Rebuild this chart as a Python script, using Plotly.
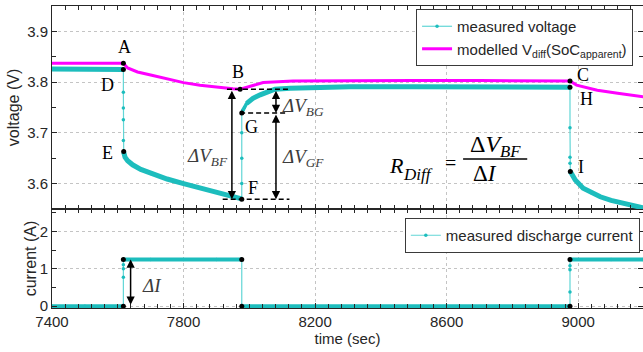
import plotly.graph_objects as go

# ---------------- data ----------------
# measured voltage, split in segments (rest / drop / pulse / jump / relax / drop / pulse)
t_v_rest1 = [7400, 7450, 7500, 7550, 7600, 7617]
v_v_rest1 = [3.826, 3.826, 3.826, 3.826, 3.826, 3.825]
t_v_drop1 = [7617, 7617, 7617, 7617, 7617, 7618]
v_v_drop1 = [3.825, 3.780, 3.749, 3.726, 3.685, 3.663]
t_v_pulse1 = [7618, 7622, 7630, 7645, 7670, 7700, 7750, 7800, 7850, 7900, 7950, 7977]
v_v_pulse1 = [3.662, 3.652, 3.645, 3.637, 3.628, 3.620, 3.609, 3.600, 3.592, 3.584, 3.576, 3.570]
t_v_jump1 = [7977, 7977, 7977, 7977, 7977]
v_v_jump1 = [3.570, 3.600, 3.650, 3.700, 3.739]
t_v_relax = [7977, 7980, 7985, 7992, 8011, 8033, 8078, 8124, 8306, 8500, 8700, 8900, 8975]
v_v_relax = [3.739, 3.745, 3.750, 3.758, 3.768, 3.775, 3.786, 3.788, 3.791, 3.791, 3.791, 3.791, 3.790]
t_v_drop2 = [8975, 8975, 8975, 8975, 8976]
v_v_drop2 = [3.790, 3.710, 3.652, 3.640, 3.624]
t_v_pulse2 = [8976, 8983, 8991, 9015, 9040, 9067, 9100, 9128, 9160, 9198]
v_v_pulse2 = [3.624, 3.614, 3.607, 3.591, 3.582, 3.574, 3.567, 3.562, 3.557, 3.552]

# modelled V_diff(SoC_apparent)
t_model = [7400, 7500, 7617, 7630, 7660, 7700, 7750, 7800, 7850, 7900, 7950, 7972,
           8000, 8024, 8042, 8133, 8316, 8500, 8700, 8975, 8995, 9058, 9120, 9198]
v_model = [3.837, 3.837, 3.837, 3.828, 3.820, 3.814, 3.806, 3.799, 3.794, 3.790, 3.787, 3.786,
           3.791, 3.795, 3.799, 3.802, 3.803, 3.803, 3.803, 3.802, 3.794, 3.784, 3.778, 3.771]

# measured discharge current segments
t_i_rest1 = [7400, 7500, 7617]
i_i_rest1 = [0, 0, 0]
t_i_jump1 = [7617, 7617, 7617, 7617, 7617]
i_i_jump1 = [0, 0.77, 1.00, 1.11, 1.25]
t_i_pulse1 = [7617, 7700, 7800, 7900, 7977]
i_i_pulse1 = [1.25, 1.25, 1.25, 1.25, 1.25]
t_i_fall1 = [7977, 7977]
i_i_fall1 = [1.25, 0]
t_i_rest2 = [7977, 8200, 8600, 8975]
i_i_rest2 = [0, 0, 0, 0]
t_i_jump2 = [8975, 8975, 8975, 8975, 8975]
i_i_jump2 = [0, 0.38, 0.97, 1.08, 1.25]
t_i_pulse2 = [8975, 9100, 9198]
i_i_pulse2 = [1.25, 1.25, 1.25]

# marked points
pt_v_names = ["A", "D", "E", "B", "G", "F", "C", "H", "I"]
pt_v_t = [7617, 7617, 7618, 7972, 7977, 7977, 8975, 8975, 8976]
pt_v_v = [3.837, 3.825, 3.663, 3.786, 3.739, 3.569, 3.802, 3.790, 3.624]
pt_i_t = [7617, 7617, 7977, 7977, 8975, 8975]
pt_i_i = [0, 1.25, 1.25, 0, 0, 1.25]

# ---------------- styling ----------------
CYAN = "#1DBDBD"
CYAN_THIN = "#62D6D6"
MAGENTA = "#FF00FF"
AX = "#262626"
GRID = "#c4c4c4"
SERIF = "Liberation Serif, Times New Roman, serif"
SANS = "Liberation Sans, Arial, sans-serif"

fig = go.Figure()

# thin connecting line with markers (legend entry)
t_all = t_v_rest1 + t_v_drop1 + t_v_pulse1 + t_v_jump1 + t_v_relax + t_v_drop2 + t_v_pulse2
v_all = v_v_rest1 + v_v_drop1 + v_v_pulse1 + v_v_jump1 + v_v_relax + v_v_drop2 + v_v_pulse2
fig.add_trace(go.Scatter(x=t_all, y=v_all, mode="lines+markers", name="measured voltage",
                         line=dict(color=CYAN_THIN, width=1.2),
                         marker=dict(color=CYAN, size=3.5),
                         xaxis="x2", yaxis="y2", legend="legend"))
# noisy band look for the flat parts
for tt, vv in [(t_v_rest1, v_v_rest1), (t_v_pulse1, v_v_pulse1), (t_v_relax[3:], v_v_relax[3:]),
               (t_v_pulse2, v_v_pulse2)]:
    fig.add_trace(go.Scatter(x=tt, y=vv, mode="lines", line=dict(color=CYAN, width=5),
                             showlegend=False, hoverinfo="skip", xaxis="x2", yaxis="y2"))
fig.add_trace(go.Scatter(x=t_v_relax[:4], y=v_v_relax[:4], mode="lines", line=dict(color=CYAN, width=3.5),
                         showlegend=False, hoverinfo="skip", xaxis="x2", yaxis="y2"))

fig.add_trace(go.Scatter(x=t_model, y=v_model, mode="lines",
                         name="modelled V<sub>diff</sub>(SoC<sub>apparent</sub>)",
                         line=dict(color=MAGENTA, width=3), xaxis="x2", yaxis="y2", legend="legend"))

fig.add_trace(go.Scatter(x=pt_v_t, y=pt_v_v, mode="markers", marker=dict(color="black", size=5),
                         showlegend=False, xaxis="x2", yaxis="y2"))

# current
t_i_all = t_i_rest1 + t_i_jump1 + t_i_pulse1 + t_i_fall1 + t_i_rest2 + t_i_jump2 + t_i_pulse2
i_i_all = i_i_rest1 + i_i_jump1 + i_i_pulse1 + i_i_fall1 + i_i_rest2 + i_i_jump2 + i_i_pulse2
fig.add_trace(go.Scatter(x=t_i_all, y=i_i_all, mode="lines+markers", name="measured discharge current",
                         line=dict(color=CYAN_THIN, width=1.2), marker=dict(color=CYAN, size=3.5),
                         xaxis="x", yaxis="y", legend="legend2"))
for tt, ii in [(t_i_rest1, i_i_rest1), (t_i_pulse1, i_i_pulse1), (t_i_rest2, i_i_rest2), (t_i_pulse2, i_i_pulse2)]:
    fig.add_trace(go.Scatter(x=tt, y=ii, mode="lines", line=dict(color=CYAN, width=4),
                             showlegend=False, hoverinfo="skip", xaxis="x", yaxis="y"))
fig.add_trace(go.Scatter(x=pt_i_t, y=pt_i_i, mode="markers", marker=dict(color="black", size=5),
                         showlegend=False, xaxis="x", yaxis="y"))

# ---------------- annotations ----------------
ann = []
label_pos = {"A": (7619, 3.869), "D": (7570, 3.794), "E": (7570, 3.660), "B": (7966, 3.820),
             "G": (8008, 3.712), "F": (8011, 3.591), "C": (9015, 3.814), "H": (9024, 3.767),
             "I": (9009, 3.633)}
for k, (xx, yy) in label_pos.items():
    ann.append(dict(x=xx, y=yy, xref="x2", yref="y2", text=k, showarrow=False,
                    font=dict(family=SERIF, size=18, color="black")))

def darrow(x0, y0, y1, xr, yr):
    return dict(x=x0, y=y1, ax=x0, ay=y0, xref=xr, yref=yr, axref=xr, ayref=yr, text="",
                showarrow=True, arrowhead=2, arrowside="end+start", arrowsize=1.1,
                arrowwidth=1.5, arrowcolor="black", standoff=0, startstandoff=0)

ann.append(darrow(7947, 3.786, 3.569, "x2", "y2"))
ann.append(darrow(8081, 3.786, 3.739, "x2", "y2"))
ann.append(darrow(8081, 3.739, 3.569, "x2", "y2"))
ann.append(darrow(7639, 0, 1.25, "x", "y"))

GR = "#3c3c3c"
def dv(sub, x, y, xa):
    return dict(x=x, y=y, xref="x2", yref="y2", xanchor=xa, showarrow=False,
                text=f"<i>\u0394V</i><sub><i>{sub}</i></sub>",
                font=dict(family=SERIF, size=19, color=GR))
ann.append(dv("BF", 7941, 3.652, "right"))
ann.append(dv("BG", 8094, 3.751, "left"))
ann.append(dv("GF", 8094, 3.650, "left"))
ann.append(dict(x=7668, y=0.565, xref="x", yref="y", xanchor="left", showarrow=False,
                text="<i>\u0394I</i>", font=dict(family=SERIF, size=19, color=GR)))

# formula R_Diff = dV_BF / dI
ann.append(dict(x=8446, y=3.636, xref="x2", yref="y2", showarrow=False, text="<i>R</i>",
                font=dict(family=SERIF, size=22, color="black")))
ann.append(dict(x=8512, y=3.617, xref="x2", yref="y2", showarrow=False, text="<i>Diff</i>",
                font=dict(family=SERIF, size=17, color="black")))
ann.append(dict(x=8612, y=3.641, xref="x2", yref="y2", showarrow=False, text="=",
                font=dict(family=SERIF, size=20, color="black")))
ann.append(dict(x=8748, y=3.674, xref="x2", yref="y2", showarrow=False,
                text="\u0394<i>V</i><sub><i>BF</i></sub>",
                font=dict(family=SERIF, size=24, color="black")))
ann.append(dict(x=8717, y=3.619, xref="x2", yref="y2", showarrow=False,
                text="\u0394<i>I</i>", font=dict(family=SERIF, size=23, color="black")))

# y title of the current panel (placed as rotated text, closer to its tick labels)
ann.append(dict(x=-0.037, y=0.165, xref="paper", yref="paper", showarrow=False,
                text="current (A)", textangle=-90, xanchor="center", yanchor="middle",
                font=dict(family=SANS, size=16, color=AX)))

DASH = "5px,3px"
shapes = [
    dict(type="line", xref="x2", yref="y2", x0=7932, x1=8118, y0=3.786, y1=3.786,
         line=dict(color="black", width=1.5, dash=DASH)),
    dict(type="line", xref="x2", yref="y2", x0=7972, x1=8118, y0=3.739, y1=3.739,
         line=dict(color="black", width=1.5, dash=DASH)),
    dict(type="line", xref="x2", yref="y2", x0=7919, x1=8122, y0=3.569, y1=3.569,
         line=dict(color="black", width=1.5, dash=DASH)),
    dict(type="line", xref="x2", yref="y2", x0=8650, x1=8845, y0=3.6485, y1=3.6485,
         line=dict(color="black", width=1.5)),
]

common_x = dict(range=[7400, 9197], tick0=7400, dtick=400, ticks="inside", ticklen=5,
                tickcolor=AX, showline=True, linecolor=AX, linewidth=1, mirror="allticks",
                showgrid=True, gridcolor=GRID, griddash="dot", gridwidth=1, zeroline=False,
                automargin=True,
                minor=dict(dtick=40, tick0=7400, ticks="inside", ticklen=4, tickcolor=AX, showgrid=False))

fig.update_layout(
    width=643, height=352,
    margin=dict(l=52, r=0, t=6, b=44),
    paper_bgcolor="white", plot_bgcolor="white",
    font=dict(family=SANS, size=15, color=AX),
    xaxis=dict(domain=[0, 1], anchor="y", **common_x,
               title=dict(text="time (sec)", standoff=1, font=dict(size=15))),
    xaxis2=dict(domain=[0, 1], anchor="y2", matches="x", showticklabels=False, **common_x),
    yaxis=dict(domain=[0, 0.328], anchor="x", range=[-0.05, 2.6], tick0=0, dtick=1,
               ticks="inside", ticklen=5, tickcolor=AX, showline=True, linecolor=AX, linewidth=1,
               mirror="allticks", showgrid=True, gridcolor=GRID, griddash="dot", zeroline=False,
               automargin=True,
               minor=dict(dtick=0.5, ticks="inside", ticklen=4, tickcolor=AX, showgrid=False)),
    yaxis2=dict(domain=[0.328, 1], anchor="x2", range=[3.55, 3.95], tick0=3.6, dtick=0.1,
                ticks="inside", ticklen=5, tickcolor=AX, showline=True, linecolor=AX, linewidth=1,
                mirror="allticks", showgrid=True, gridcolor=GRID, griddash="dot", zeroline=False,
                automargin=True,
                minor=dict(dtick=0.05, ticks="inside", ticklen=4, tickcolor=AX, showgrid=False),
                title=dict(text="voltage (V)", standoff=3, font=dict(size=16))),
    legend=dict(x=0.616, y=0.99, xanchor="left", yanchor="top", bgcolor="white",
                bordercolor="#3a3a3a", borderwidth=1, font=dict(size=15, color=AX),
                itemwidth=30, tracegroupgap=0),
    legend2=dict(x=0.597, y=0.298, xanchor="left", yanchor="top", bgcolor="white",
                 bordercolor="#3a3a3a", borderwidth=1, font=dict(size=15, color=AX),
                 itemwidth=30),
    annotations=ann, shapes=shapes, showlegend=True,
)

fig.write_html("out.html", config={"displayModeBar": False},
               post_script="document.body.style.margin='0';document.body.style.overflow='hidden';")
